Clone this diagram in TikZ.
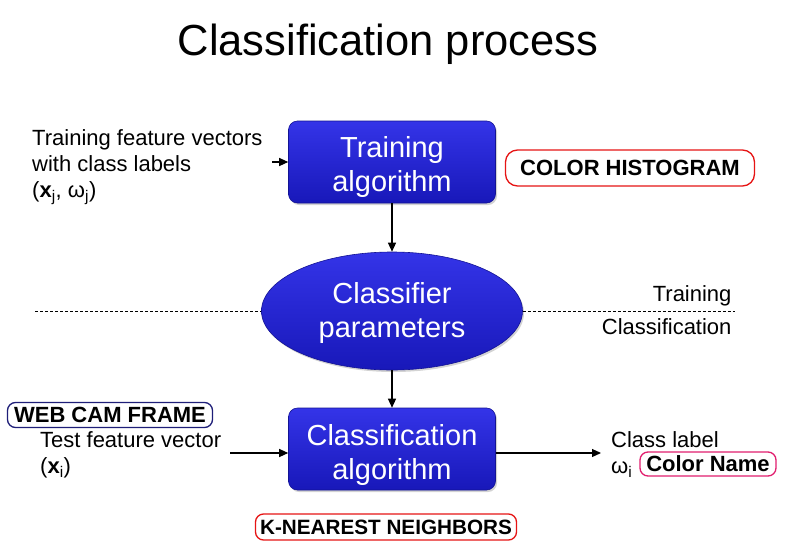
\documentclass[tikz,border=0pt]{standalone}
\usepackage{fontspec}
\setmainfont{Liberation Sans}
\usetikzlibrary{arrows.meta,shapes.geometric,shadows}
\definecolor{boxtop}{RGB}{52,52,232}
\definecolor{boxbot}{RGB}{24,24,185}
\definecolor{webblue}{RGB}{30,30,120}
\definecolor{tagred}{RGB}{230,20,20}
\definecolor{tagpink}{RGB}{225,30,110}
\tikzset{
  x=1pt,y=-1pt,
  blockfill/.style={top color=boxtop, bottom color=boxbot, draw=boxbot!80!black, line width=0.6pt,
    drop shadow={shadow xshift=1.5pt, shadow yshift=-2pt, opacity=0.35}},
  blocktext/.style={text=white, font=\fontsize{29}{34}\selectfont, align=center},
  algo/.style={rectangle, rounded corners=9pt, minimum width=207pt, minimum height=82pt, blockfill},
  params/.style={ellipse, minimum width=261pt, minimum height=118pt, inner sep=0pt, blockfill},
  tag/.style={rectangle, rounded corners=8pt, line width=1.3pt, fill=white,
    font=\bfseries\fontsize{22}{24}\selectfont, inner xsep=4pt, inner ysep=0pt},
  note/.style={font=\fontsize{22}{26}\selectfont, align=left},
  flow/.style={-{Triangle[length=9pt,width=8pt]}, line width=1.2pt},
}
\begin{document}
\begin{tikzpicture}
\useasboundingbox (0,0) rectangle (788,555);

% title
\node (title) at (388,44) {\fontsize{43.5}{48}\selectfont Classification process};

% main flow
\node[algo] (train) at (392,162) {};
\node[blocktext] (traintxt) at (392,167) {Training\\algorithm};
\node[params] (param) at (392,311) {};
\node[blocktext] (paramtxt) at (392,313) {Classifier\\parameters};
\node[algo] (classify) at (392,449) {};
\node[blocktext] (classifytxt) at (392,455) {Classification\\algorithm};

% training/classification split
\coordinate (dl) at (35,311);
\coordinate (dr) at (735,311);
\draw[line width=0.6pt, dash pattern=on 3pt off 2pt] (dl) -- (param.west);
\draw[line width=0.6pt, dash pattern=on 3pt off 2pt] (param.east) -- (dr);
\node[note, anchor=south east] (ltrain) at (735,310) {Training};
\node[note, anchor=north east] (lclass) at (735,315) {Classification};

% inputs and outputs
\node[note, anchor=north west, inner sep=0pt] (trin) at (32,129)
  {Training feature vectors\\with class labels\\(\textbf{x}\textsubscript{j}, ω\textsubscript{j})};
\node[note, anchor=north west, inner sep=0pt] (tein) at (40,431)
  {Test feature vector\\(\textbf{x}\textsubscript{i})};
\node[note, anchor=north west, inner sep=0pt] (out) at (611,431)
  {Class label\\ω\textsubscript{i}};

\coordinate (trinR) at (272,162);
\coordinate (teinR) at (230,453);
\coordinate (outL) at (601,453);
\draw[flow] (trinR) -- (train.west |- trinR);
\draw[flow] (train.south) -- (param.north);
\draw[flow] (param.south) -- (classify.north);
\draw[flow] (teinR) -- (classify.west |- teinR);
\draw[flow] (classify.east |- outL) -- (outL);

% annotation tags
\node[tag, draw=tagred, minimum width=249pt, minimum height=36pt, rounded corners=12pt] (hist) at (630,168) {COLOR HISTOGRAM};
\node[tag, draw=webblue, minimum width=205pt, minimum height=25pt] (cam) at (110,415) {WEB CAM FRAME};
\node[tag, draw=tagpink, minimum width=136pt, minimum height=24pt] (cname) at (708,464) {Color Name};
\node[tag, draw=tagred, minimum width=261pt, minimum height=26pt, font=\bfseries\fontsize{20.7}{23}\selectfont] (knn) at (386,527) {K-NEAREST NEIGHBORS};
\end{tikzpicture}
\end{document}
